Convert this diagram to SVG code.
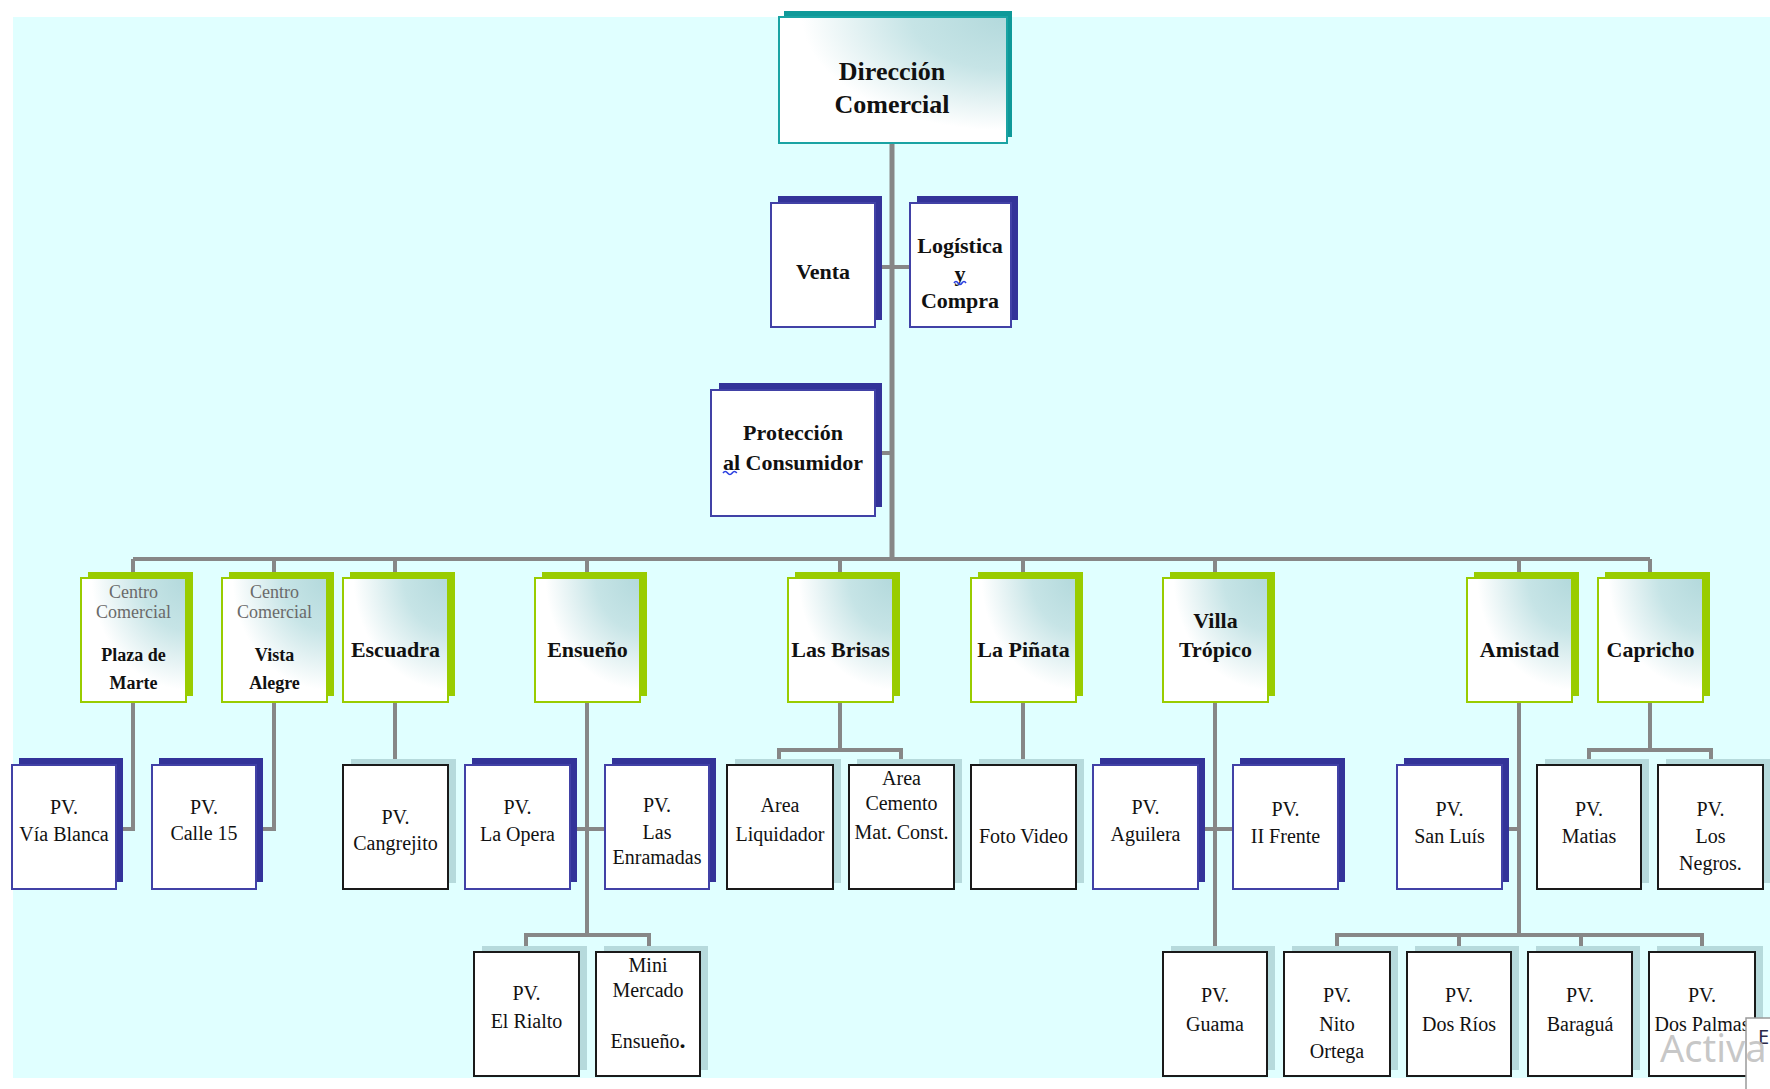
<svg xmlns="http://www.w3.org/2000/svg" width="1770" height="1089" viewBox="0 0 1770 1089">
<defs>
  <!-- soft teal wash from the top-right corner of the upper boxes -->
  <radialGradient id="wash" cx="1" cy="0" r="1" fx="1" fy="0">
    <stop offset="0" stop-color="#B3D9DC"/>
    <stop offset="0.42" stop-color="#C6E4E6"/>
    <stop offset="0.9" stop-color="#FFFFFF"/>
  </radialGradient>
</defs>
<style>
  .conn path { fill: none; stroke: #878787; stroke-width: 4; }
  .conn .trunk { stroke-width: 5; }
  .sh-teal { fill: #0F9999; }
  .fr-teal { fill: url(#wash); stroke: #1AA3A3; stroke-width: 2; }
  .sh-green { fill: #99CC00; }
  .fr-green { fill: url(#wash); stroke: #99CC00; stroke-width: 2; }
  .sh-blue { fill: #333399; }
  .fr-blue { fill: #FFFFFF; stroke: #4141A6; stroke-width: 2; }
  .sh-pale { fill: #B6DADC; }
  .fr-black { fill: #FFFFFF; stroke: #1A1A1A; stroke-width: 2; }
  text { font-family: "Liberation Serif", "Times New Roman", serif; text-anchor: middle; fill: #111111; }
  .t { font-weight: bold; font-size: 26px; }
  .b { font-weight: bold; font-size: 22px; }
  .s { font-weight: bold; font-size: 18px; }
  .r { font-size: 20px; }
  .cc { font-size: 18px; fill: #6A6A6A; }
  .squig { fill: none; stroke: #2B3FE0; stroke-width: 1.6; }
</style>

<!-- page -->
<rect x="0" y="0" width="1770" height="1089" fill="#FFFFFF"/>
<rect x="13" y="17" width="1757" height="1061" fill="#E0FFFF"/>

<!-- connectors -->
<g id="connectors" class="conn">
  <path class="trunk" d="M892 143 V559"/>
  <path d="M882 267 H910"/>
  <path d="M882 453 H892"/>
  <path d="M133 559 H1650"/>
  <path d="M133 559 V573 M274 559 V573 M395 559 V573 M587 559 V573 M840 559 V573 M1023 559 V573 M1215 559 V573 M1519 559 V573 M1650 559 V573"/>
  <!-- Plaza de Marte / Vista Alegre -->
  <path d="M133 702 V829 H116"/>
  <path d="M274 702 V829 H256"/>
  <!-- Escuadra -->
  <path d="M395 702 V760"/>
  <!-- Ensueño -->
  <path d="M587 702 V935"/>
  <path d="M570 829 H605"/>
  <path d="M526 947 V935 H649 V947"/>
  <!-- Las Brisas -->
  <path d="M840 702 V750"/>
  <path d="M779 760 V750 H901 V760"/>
  <!-- La Piñata -->
  <path d="M1023 702 V760"/>
  <!-- Villa Trópico -->
  <path d="M1215 702 V947"/>
  <path d="M1197 829 H1233"/>
  <!-- Amistad -->
  <path d="M1519 702 V935"/>
  <path d="M1502 829 H1519"/>
  <path d="M1337 947 V935 H1702 V947 M1459 935 V947 M1581 935 V947"/>
  <!-- Capricho -->
  <path d="M1650 702 V750"/>
  <path d="M1589 760 V750 H1711 V760"/>
</g>

<!-- top level -->
<g id="direccion-comercial">
  <rect class="sh-teal" x="784" y="11" width="228" height="126"/>
  <rect class="fr-teal" x="779" y="17" width="228" height="126"/>
  <text class="t" x="892" y="80">Dirección</text>
  <text class="t" x="892" y="113">Comercial</text>
</g>

<g id="venta">
  <rect class="sh-blue" x="778" y="196" width="104" height="124"/>
  <rect class="fr-blue" x="771" y="203" width="104" height="124"/>
  <text class="b" x="823" y="279">Venta</text>
</g>

<g id="logistica-compra">
  <rect class="sh-blue" x="917" y="196" width="101" height="124"/>
  <rect class="fr-blue" x="910" y="203" width="101" height="124"/>
  <text class="b" x="960" y="253">Logística</text>
  <text class="b" x="960" y="281">y</text>
  <path class="squig" d="M954 283 q2 -3 4 0 t4 0 t4 0"/>
  <text class="b" x="960" y="308">Compra</text>
</g>

<g id="proteccion-consumidor">
  <rect class="sh-blue" x="719" y="383" width="163" height="124"/>
  <rect class="fr-blue" x="711" y="390" width="164" height="126"/>
  <text class="b" x="793" y="440">Protección</text>
  <text class="b" x="793" y="470">al Consumidor</text>
  <path class="squig" d="M723 473 q2.3 -3 4.6 0 t4.6 0 t4.6 0"/>
</g>

<!-- establishments -->
<g id="plaza-de-marte">
  <rect class="sh-green" x="88" y="572" width="105" height="124"/>
  <rect class="fr-green" x="81" y="578" width="105" height="124"/>
  <text class="cc" x="133.5" y="598">Centro</text>
  <text class="cc" x="133.5" y="618">Comercial</text>
  <text class="s" x="133.5" y="661">Plaza de</text>
  <text class="s" x="133.5" y="689">Marte</text>
</g>

<g id="vista-alegre">
  <rect class="sh-green" x="229" y="572" width="105" height="124"/>
  <rect class="fr-green" x="222" y="578" width="105" height="124"/>
  <text class="cc" x="274.5" y="598">Centro</text>
  <text class="cc" x="274.5" y="618">Comercial</text>
  <text class="s" x="274.5" y="661">Vista</text>
  <text class="s" x="274.5" y="689">Alegre</text>
</g>

<g id="escuadra">
  <rect class="sh-green" x="350" y="572" width="105" height="124"/>
  <rect class="fr-green" x="343" y="578" width="105" height="124"/>
  <text class="b" x="395.5" y="657">Escuadra</text>
</g>

<g id="ensueno">
  <rect class="sh-green" x="542" y="572" width="105" height="124"/>
  <rect class="fr-green" x="535" y="578" width="105" height="124"/>
  <text class="b" x="587.5" y="657">Ensueño</text>
</g>

<g id="las-brisas">
  <rect class="sh-green" x="795" y="572" width="105" height="124"/>
  <rect class="fr-green" x="788" y="578" width="105" height="124"/>
  <text class="b" x="840.5" y="657">Las Brisas</text>
</g>

<g id="la-pinata">
  <rect class="sh-green" x="978" y="572" width="105" height="124"/>
  <rect class="fr-green" x="971" y="578" width="105" height="124"/>
  <text class="b" x="1023.5" y="657">La Piñata</text>
</g>

<g id="villa-tropico">
  <rect class="sh-green" x="1170" y="572" width="105" height="124"/>
  <rect class="fr-green" x="1163" y="578" width="105" height="124"/>
  <text class="b" x="1215.5" y="628">Villa</text>
  <text class="b" x="1215.5" y="657">Trópico</text>
</g>

<g id="amistad">
  <rect class="sh-green" x="1474" y="572" width="105" height="124"/>
  <rect class="fr-green" x="1467" y="578" width="105" height="124"/>
  <text class="b" x="1519.5" y="657">Amistad</text>
</g>

<g id="capricho">
  <rect class="sh-green" x="1605" y="572" width="105" height="124"/>
  <rect class="fr-green" x="1598" y="578" width="105" height="124"/>
  <text class="b" x="1650.5" y="657">Capricho</text>
</g>

<!-- points of sale, first row -->
<g id="pv-via-blanca">
  <rect class="sh-blue" x="19" y="758" width="104" height="124"/>
  <rect class="fr-blue" x="12" y="765" width="104" height="124"/>
  <text class="r" x="64" y="814">PV.</text>
  <text class="r" x="64" y="841">Vía Blanca</text>
</g>

<g id="pv-calle-15">
  <rect class="sh-blue" x="159" y="758" width="104" height="124"/>
  <rect class="fr-blue" x="152" y="765" width="104" height="124"/>
  <text class="r" x="204" y="814">PV.</text>
  <text class="r" x="204" y="840">Calle 15</text>
</g>

<g id="pv-cangrejito">
  <rect class="sh-pale" x="351" y="759" width="105" height="124"/>
  <rect class="fr-black" x="343" y="765" width="105" height="124"/>
  <text class="r" x="395.5" y="824">PV.</text>
  <text class="r" x="395.5" y="850">Cangrejito</text>
</g>

<g id="pv-la-opera">
  <rect class="sh-blue" x="472" y="758" width="105" height="124"/>
  <rect class="fr-blue" x="465" y="765" width="105" height="124"/>
  <text class="r" x="517.5" y="814">PV.</text>
  <text class="r" x="517.5" y="841">La Opera</text>
</g>

<g id="pv-las-enramadas">
  <rect class="sh-blue" x="612" y="758" width="104" height="124"/>
  <rect class="fr-blue" x="605" y="765" width="104" height="124"/>
  <text class="r" x="657" y="812">PV.</text>
  <text class="r" x="657" y="839">Las</text>
  <text class="r" x="657" y="864">Enramadas</text>
</g>

<g id="area-liquidador">
  <rect class="sh-pale" x="735" y="759" width="106" height="124"/>
  <rect class="fr-black" x="727" y="765" width="106" height="124"/>
  <text class="r" x="780" y="812">Area</text>
  <text class="r" x="780" y="841">Liquidador</text>
</g>

<g id="area-cemento">
  <rect class="sh-pale" x="857" y="759" width="105" height="124"/>
  <rect class="fr-black" x="849" y="765" width="105" height="124"/>
  <text class="r" x="901.5" y="785">Area</text>
  <text class="r" x="901.5" y="810">Cemento</text>
  <text class="r" x="901.5" y="839">Mat. Const.</text>
</g>

<g id="foto-video">
  <rect class="sh-pale" x="979" y="759" width="105" height="124"/>
  <rect class="fr-black" x="971" y="765" width="105" height="124"/>
  <text class="r" x="1023.5" y="843">Foto Video</text>
</g>

<g id="pv-aguilera">
  <rect class="sh-blue" x="1100" y="758" width="105" height="124"/>
  <rect class="fr-blue" x="1093" y="765" width="105" height="124"/>
  <text class="r" x="1145.5" y="814">PV.</text>
  <text class="r" x="1145.5" y="841">Aguilera</text>
</g>

<g id="pv-ii-frente">
  <rect class="sh-blue" x="1240" y="758" width="105" height="124"/>
  <rect class="fr-blue" x="1233" y="765" width="105" height="124"/>
  <text class="r" x="1285.5" y="816">PV.</text>
  <text class="r" x="1285.5" y="843">II Frente</text>
</g>

<g id="pv-san-luis">
  <rect class="sh-blue" x="1404" y="758" width="105" height="124"/>
  <rect class="fr-blue" x="1397" y="765" width="105" height="124"/>
  <text class="r" x="1449.5" y="816">PV.</text>
  <text class="r" x="1449.5" y="843">San Luís</text>
</g>

<g id="pv-matias">
  <rect class="sh-pale" x="1545" y="759" width="104" height="124"/>
  <rect class="fr-black" x="1537" y="765" width="104" height="124"/>
  <text class="r" x="1589" y="816">PV.</text>
  <text class="r" x="1589" y="843">Matias</text>
</g>

<g id="pv-los-negros">
  <rect class="sh-pale" x="1666" y="759" width="104" height="124"/>
  <rect class="fr-black" x="1658" y="765" width="105" height="124"/>
  <text class="r" x="1710.5" y="816">PV.</text>
  <text class="r" x="1710.5" y="843">Los</text>
  <text class="r" x="1710.5" y="870">Negros.</text>
</g>

<!-- points of sale, second row -->
<g id="pv-el-rialto">
  <rect class="sh-pale" x="482" y="946" width="105" height="124"/>
  <rect class="fr-black" x="474" y="952" width="105" height="124"/>
  <text class="r" x="526.5" y="1000">PV.</text>
  <text class="r" x="526.5" y="1028">El Rialto</text>
</g>

<g id="mini-mercado-ensueno">
  <rect class="sh-pale" x="604" y="946" width="104" height="124"/>
  <rect class="fr-black" x="596" y="952" width="104" height="124"/>
  <text class="r" x="648" y="972">Mini</text>
  <text class="r" x="648" y="997">Mercado</text>
  <text class="r" x="648" y="1048">Ensueño<tspan font-weight="bold" font-size="24px">.</tspan></text>
</g>

<g id="pv-guama">
  <rect class="sh-pale" x="1171" y="946" width="104" height="124"/>
  <rect class="fr-black" x="1163" y="952" width="104" height="124"/>
  <text class="r" x="1215" y="1002">PV.</text>
  <text class="r" x="1215" y="1031">Guama</text>
</g>

<g id="pv-nito-ortega">
  <rect class="sh-pale" x="1292" y="946" width="106" height="124"/>
  <rect class="fr-black" x="1284" y="952" width="106" height="124"/>
  <text class="r" x="1337" y="1002">PV.</text>
  <text class="r" x="1337" y="1031">Nito</text>
  <text class="r" x="1337" y="1058">Ortega</text>
</g>

<g id="pv-dos-rios">
  <rect class="sh-pale" x="1415" y="946" width="104" height="124"/>
  <rect class="fr-black" x="1407" y="952" width="104" height="124"/>
  <text class="r" x="1459" y="1002">PV.</text>
  <text class="r" x="1459" y="1031">Dos Ríos</text>
</g>

<g id="pv-baragua">
  <rect class="sh-pale" x="1536" y="946" width="104" height="124"/>
  <rect class="fr-black" x="1528" y="952" width="104" height="124"/>
  <text class="r" x="1580" y="1002">PV.</text>
  <text class="r" x="1580" y="1031">Baraguá</text>
</g>

<g id="pv-dos-palmas">
  <rect class="sh-pale" x="1657" y="946" width="106" height="124"/>
  <rect class="fr-black" x="1649" y="952" width="106" height="124"/>
  <text class="r" x="1702" y="1002">PV.</text>
  <text class="r" x="1702" y="1031">Dos Palmas</text>
</g>

<!-- corner overlay and watermark -->
<rect x="1746" y="1018" width="40" height="90" fill="#FFFFFF" stroke="#9A9A9A" stroke-width="1.5"/>
<text x="1758" y="1044" style="font-family:'Noto Sans','DejaVu Sans',sans-serif;font-size:20px;text-anchor:start;fill:#2A2A4A">E</text>
<text x="1660" y="1062" style="font-family:'Noto Sans','Open Sans',sans-serif;font-size:38px;text-anchor:start;fill:#BDBDBD;fill-opacity:0.85">Activa</text>
</svg>
